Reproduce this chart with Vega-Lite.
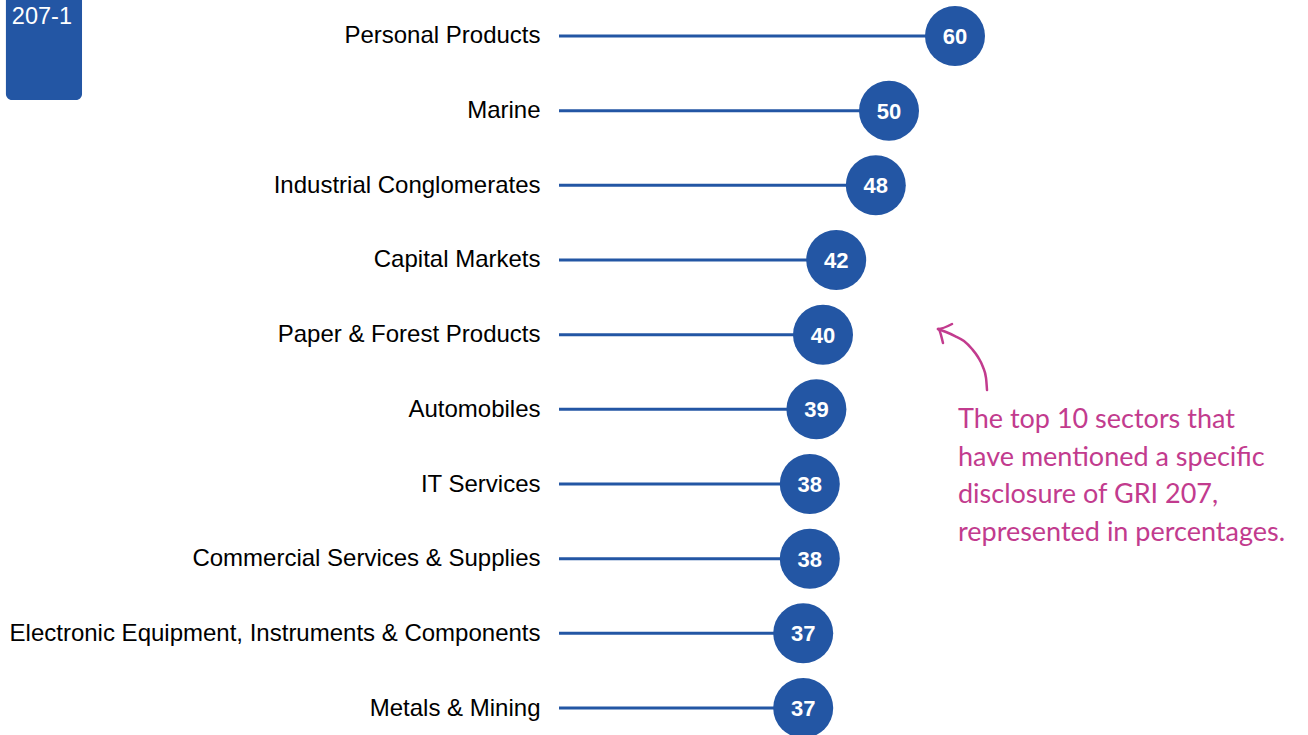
{
  "$schema": "https://vega.github.io/schema/vega-lite/v6.json",
  "width": 660,
  "height": 726,
  "autosize": "none",
  "padding": {"left": 559, "top": 9, "right": 89, "bottom": 0},
  "background": "white",
  "config": {"view": {"stroke": null}, "font": "Liberation Sans"},
  "datasets": {
    "sectors": [
      {"sector": "Personal Products", "value": 60},
      {"sector": "Marine", "value": 50},
      {"sector": "Industrial Conglomerates", "value": 48},
      {"sector": "Capital Markets", "value": 42},
      {"sector": "Paper & Forest Products", "value": 40},
      {"sector": "Automobiles", "value": 39},
      {"sector": "IT Services", "value": 38},
      {"sector": "Commercial Services & Supplies", "value": 38},
      {"sector": "Electronic Equipment, Instruments & Components", "value": 37},
      {"sector": "Metals & Mining", "value": 37}
    ],
    "arrow": [
      {"part": "curve", "o": 1, "x": 64.85, "r": 4.741},
      {"part": "curve", "o": 2, "x": 64.70, "r": 4.580},
      {"part": "curve", "o": 3, "x": 64.24, "r": 4.433},
      {"part": "curve", "o": 4, "x": 63.48, "r": 4.299},
      {"part": "curve", "o": 5, "x": 62.58, "r": 4.192},
      {"part": "curve", "o": 6, "x": 61.36, "r": 4.085},
      {"part": "curve", "o": 7, "x": 60.00, "r": 4.018},
      {"part": "curve", "o": 8, "x": 58.64, "r": 3.964},
      {"part": "curve", "o": 9, "x": 57.42, "r": 3.924},
      {"part": "head", "o": 1, "x": 59.55, "r": 3.857},
      {"part": "head", "o": 2, "x": 57.42, "r": 3.924},
      {"part": "head", "o": 3, "x": 58.18, "r": 4.111}
    ],
    "note": [
      {"x": 60.45, "r": 5.143, "text": ["The top 10 sectors that", "have mentioned a specific", "disclosure of GRI 207,", "represented in percentages."]}
    ],
    "box": [
      {"x1": -83.8, "x2": -72.27, "r1": -0.7, "r2": 0.857, "tx": -82.9, "tr": -0.254, "label": "207-1"}
    ]
  },
  "encoding": {
    "x": {"type": "quantitative", "scale": {"domain": [0, 100], "nice": false, "zero": false}, "axis": null}
  },
  "layer": [
    {
      "data": {"name": "sectors"},
      "encoding": {
        "y": {
          "field": "sector", "type": "nominal", "sort": null,
          "scale": {"type": "point", "padding": 0.3615},
          "axis": {"title": null, "domain": false, "ticks": false, "grid": false, "labelPadding": 19, "labelFontSize": 24, "labelColor": "#000000", "labelFont": "Liberation Sans", "labelLimit": 700}
        }
      },
      "layer": [
        {"mark": {"type": "rule", "color": "#2356a4", "strokeWidth": 3}, "encoding": {"x": {"field": "value", "type": "quantitative"}, "x2": {"datum": 0}}},
        {"mark": {"type": "circle", "color": "#2356a4", "opacity": 1, "size": 3600}, "encoding": {"x": {"field": "value", "type": "quantitative"}}},
        {"mark": {"type": "text", "color": "white", "fontWeight": "bold", "fontSize": 22, "font": "Liberation Sans", "baseline": "middle", "align": "center", "dy": 1}, "encoding": {"x": {"field": "value", "type": "quantitative"}, "text": {"field": "value", "type": "quantitative"}}}
      ]
    },
    {
      "encoding": {
        "y": {"type": "quantitative", "scale": {"domain": [-0.3616, 9.3616], "reverse": true, "nice": false, "zero": false}, "axis": null}
      },
      "layer": [
        {
          "data": {"name": "box"},
          "mark": {"type": "rect", "color": "#2356a4", "cornerRadius": 6, "clip": false},
          "encoding": {"x": {"field": "x1", "type": "quantitative"}, "x2": {"field": "x2"}, "y": {"field": "r1", "type": "quantitative"}, "y2": {"field": "r2"}}
        },
        {
          "data": {"name": "box"},
          "mark": {"type": "text", "color": "white", "fontSize": 23.5, "font": "Liberation Sans", "align": "left", "baseline": "middle"},
          "encoding": {"x": {"field": "tx", "type": "quantitative"}, "y": {"field": "tr", "type": "quantitative"}, "text": {"field": "label"}}
        },
        {
          "data": {"name": "arrow"},
          "mark": {"type": "line", "color": "#c23b8e", "strokeWidth": 2.5, "interpolate": "monotone", "strokeCap": "round", "strokeJoin": "round"},
          "encoding": {"x": {"field": "x", "type": "quantitative"}, "y": {"field": "r", "type": "quantitative"}, "detail": {"field": "part"}, "order": {"field": "o"}}
        },
        {
          "data": {"name": "note"},
          "mark": {"type": "text", "color": "#c23b8e", "fontSize": 27, "font": "Lato", "align": "left", "baseline": "middle", "lineHeight": 37.5},
          "encoding": {"x": {"field": "x", "type": "quantitative"}, "y": {"field": "r", "type": "quantitative"}, "text": {"field": "text"}}
        }
      ]
    }
  ],
  "resolve": {"scale": {"y": "independent"}}
}
